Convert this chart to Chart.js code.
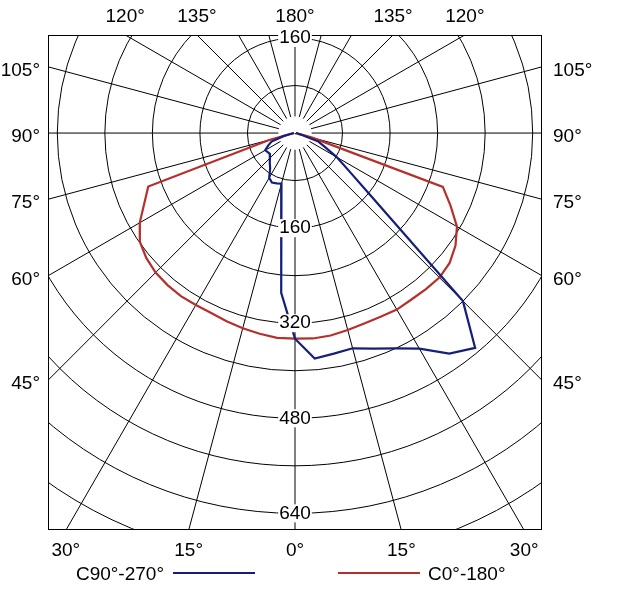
<!DOCTYPE html>
<html>
<head>
<meta charset="utf-8">
<title>Polar intensity diagram</title>
<script src="https://cdn.jsdelivr.net/npm/chart.js@4.4.1/dist/chart.umd.min.js"></script>
<style>
  body { margin: 0; background: #fff; }
  canvas { display: block; }
</style>
</head>
<body>
<canvas id="polarChart" width="627" height="595"></canvas>
<script>
// gamma angles (degrees from nadir) and luminous intensity (cd) per half plane
const gammaAngles = [0, 5, 10, 15, 20, 25, 30, 35, 40, 45, 50, 55, 60, 65, 70, 75, 80, 85, 90];
const c0Values   = [346, 347, 346, 343, 341, 341, 343, 342, 343, 344, 340, 330, 315, 289, 265, 30, 5, 3, 2];
const c180Values = [346, 346, 343, 340, 337, 334, 334, 335, 334, 332, 327, 319, 302, 280, 263, 45, 5, 3, 2];
const c90Values  = [346, 381, 377, 375, 386, 400, 419, 453, 472, 400, 174, 111, 81, 56, 42, 10, 4, 3, 2];
const c270Values = [346, 270, 132, 88, 90, 92, 87, 73, 66, 60, 55, 56, 58, 50, 42, 20, 5, 3, 2];

// grid
const ringValues = [80, 160, 240, 320, 400, 480, 560, 640, 720, 800];
const ringLabelsDown = [160, 320, 480, 640];
const ringLabelsUp = [160];
const sideAngleLabels = [105, 90, 75, 60, 45];
const topAngleLabels = [120, 135, 180];
const bottomAngleLabels = [0, 15, 30];

const rayStep = 15;
const rayInner = 28;
const font = '19px "Liberation Sans", Arial, sans-serif';

const blueColor = '#151f7a';
const redColor = '#b5302c';

// side = -1 for left half plane, +1 for right half plane
function halfPlane(values, side) {
    return values.map((v, i) => {
        const g = gammaAngles[i] * Math.PI / 180;
        return { x: side * v * Math.sin(g), y: -v * Math.cos(g) };
    });
}

function curve(leftValues, rightValues) {
    return halfPlane(leftValues, -1).reverse().concat(halfPlane(rightValues, 1).slice(1));
}

const polarGrid = {
    id: 'polarGrid',
    beforeDatasetsDraw(chart) {
        const { ctx, chartArea: a, scales: { x, y } } = chart;
        const cx = x.getPixelForValue(0);
        const cy = y.getPixelForValue(0);

        ctx.save();
        ctx.beginPath();
        ctx.rect(a.left, a.top, a.right - a.left, a.bottom - a.top);
        ctx.clip();
        ctx.strokeStyle = '#000';
        ctx.lineWidth = 1;

        ringValues.forEach(r => {
            ctx.beginPath();
            ctx.arc(cx, cy, cy - y.getPixelForValue(r), 0, Math.PI * 2);
            ctx.stroke();
        });

        for (let deg = 0; deg < 360; deg += rayStep) {
            const g = deg * Math.PI / 180;
            const far = 2000;
            ctx.beginPath();
            ctx.moveTo(x.getPixelForValue(rayInner * Math.sin(g)), y.getPixelForValue(-rayInner * Math.cos(g)));
            ctx.lineTo(x.getPixelForValue(far * Math.sin(g)), y.getPixelForValue(-far * Math.cos(g)));
            ctx.stroke();
        }
        ctx.restore();

        ctx.save();
        ctx.strokeStyle = '#000';
        ctx.lineWidth = 1;
        ctx.strokeRect(Math.round(a.left) + 0.5, Math.round(a.top) + 0.5,
            Math.round(a.right - a.left) - 1, Math.round(a.bottom - a.top) - 1);
        ctx.restore();
    },
    afterDatasetsDraw(chart) {
        const { ctx, chartArea: a, scales: { x, y } } = chart;
        const cx = x.getPixelForValue(0);
        const cy = y.getPixelForValue(0);

        ctx.save();
        ctx.font = font;
        ctx.textBaseline = 'middle';

        // intensity labels on the vertical axis
        const ringLabel = (v, py) => {
            const w = ctx.measureText(String(v)).width;
            ctx.fillStyle = '#fff';
            ctx.fillRect(cx - w / 2 - 1, py - 9, w + 2, 18);
            ctx.fillStyle = '#000';
            ctx.textAlign = 'center';
            ctx.fillText(String(v), cx, py);
        };
        ringLabelsDown.forEach(v => ringLabel(v, y.getPixelForValue(-v)));
        ringLabelsUp.forEach(v => ringLabel(v, y.getPixelForValue(v)));

        // angle labels where the rays leave the frame
        ctx.fillStyle = '#000';
        sideAngleLabels.forEach(deg => {
            const g = deg * Math.PI / 180;
            const pyL = cy + (cx - a.left) * Math.cos(g) / Math.sin(g) + 4;
            ctx.textAlign = 'right';
            ctx.fillText(deg + '°', a.left - 8, pyL);
            const pyR = cy + (a.right - cx) * Math.cos(g) / Math.sin(g) + 4;
            ctx.textAlign = 'left';
            ctx.fillText(deg + '°', a.right + 11, pyR);
        });

        ctx.textAlign = 'center';
        topAngleLabels.forEach(deg => {
            const g = deg * Math.PI / 180;
            const off = (cy - a.top) * Math.tan(Math.PI - g);
            ctx.fillText(deg + '°', cx - off, a.top - 18);
            if (off > 0.5) ctx.fillText(deg + '°', cx + off, a.top - 18);
        });
        bottomAngleLabels.forEach(deg => {
            const g = deg * Math.PI / 180;
            const off = (a.bottom - cy) * Math.tan(g);
            ctx.fillText(deg + '°', cx - off, a.bottom + 21);
            if (off > 0.5) ctx.fillText(deg + '°', cx + off, a.bottom + 21);
        });

        // legend
        const ly = a.bottom + 43;
        ctx.lineWidth = 2;
        ctx.textAlign = 'right';
        ctx.fillText(chart.data.datasets[0].label, 164, ly + 2);
        ctx.strokeStyle = blueColor;
        ctx.beginPath(); ctx.moveTo(173, ly); ctx.lineTo(255, ly); ctx.stroke();
        ctx.strokeStyle = redColor;
        ctx.beginPath(); ctx.moveTo(338, ly); ctx.lineTo(420, ly); ctx.stroke();
        ctx.textAlign = 'left';
        ctx.fillText(chart.data.datasets[1].label, 428, ly + 2);
        ctx.restore();
    }
};

new Chart(document.getElementById('polarChart').getContext('2d'), {
    type: 'scatter',
    data: {
        datasets: [{
            label: 'C90°-270°',
            data: curve(c270Values, c90Values),
            showLine: true,
            borderColor: blueColor,
            borderWidth: 2.2,
            pointRadius: 0,
            tension: 0
        }, {
            label: 'C0°-180°',
            data: curve(c180Values, c0Values),
            showLine: true,
            borderColor: redColor,
            borderWidth: 2.2,
            pointRadius: 0,
            tension: 0
        }]
    },
    options: {
        responsive: false,
        animation: false,
        layout: { padding: { left: 48, right: 85, top: 35, bottom: 65 } },
        scales: {
            x: { type: 'linear', min: -416, max: 416, display: false },
            y: { type: 'linear', min: -668, max: 165, display: false }
        },
        plugins: {
            legend: { display: false },
            tooltip: { enabled: false }
        }
    },
    plugins: [polarGrid]
});
</script>
</body>
</html>
